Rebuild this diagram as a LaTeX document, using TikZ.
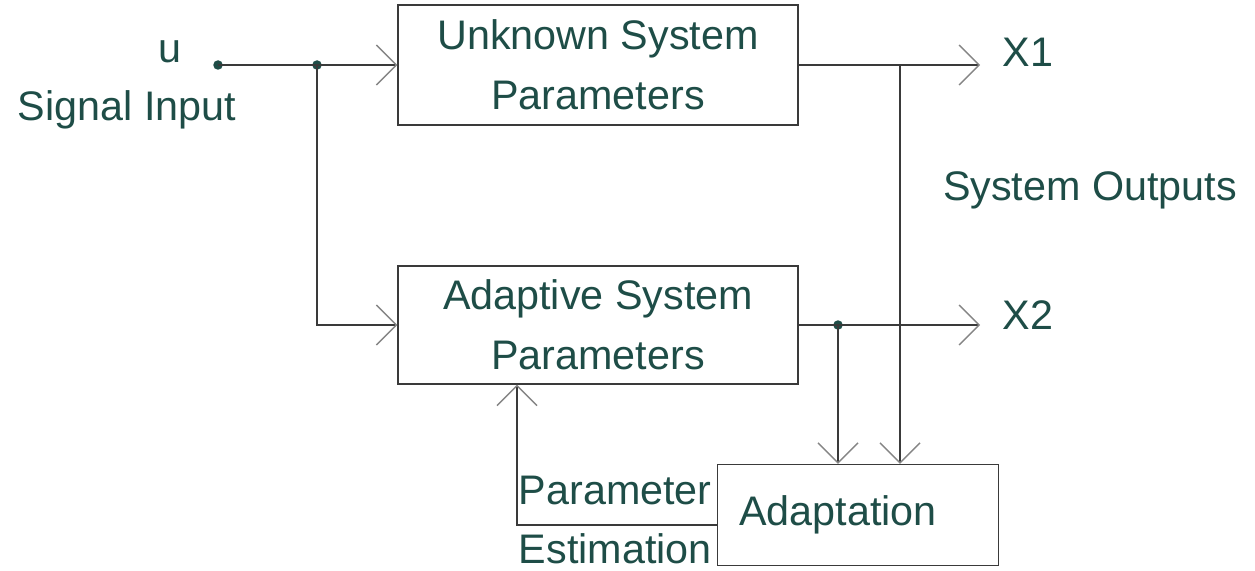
\documentclass[tikz,border=0pt]{standalone}
\usepackage{fontspec}
\setmainfont{Liberation Sans}
\usetikzlibrary{arrows.meta,positioning,calc}
\definecolor{inkteal}{HTML}{1E4D47}
\definecolor{wireline}{HTML}{3A3A3A}
\definecolor{tipgray}{HTML}{858585}
\tikzset{
  blk/.style={draw=wireline,line width=0.8pt,fill=white,inner sep=0pt,align=center,text=inkteal,font=\fontsize{23.5}{34}\selectfont},
  lbl/.style={text=inkteal,font=\fontsize{23.5}{34}\selectfont,inner sep=0pt},
  flow/.style={-{Straight Barb[length=0.4cm,width=0.8cm,color=tipgray]},line width=0.8pt,color=wireline},
  jdot/.style={circle,fill=inkteal,inner sep=0pt,minimum size=0.19cm},
}
\begin{document}
\begin{tikzpicture}[x=0.02cm,y=-0.02cm]
  \useasboundingbox[fill=white] (0,0) rectangle (1255,571);
  % blocks
  \node[blk,minimum width=8cm,minimum height=2.4cm] (unk) at (598,65) {Unknown System\\Parameters};
  \node[blk,minimum width=8cm,minimum height=2.36cm] (adp) at (598,325) {Adaptive System\\Parameters};
  \node[blk,minimum width=5.62cm,minimum height=2.02cm,label={[lbl,xshift=-0.4cm]center:Adaptation}] (ada) at (858,515) {};
  % labels
  \node[lbl] (u) at (170,52) {u};
  \node[lbl] (sig) at (127,110) {Signal Input};
  \node[lbl,anchor=west,inner xsep=0.45cm] (x1) at (980,52) {X1};
  \node[lbl,anchor=west,inner xsep=0.45cm] (x2) at (980,315) {X2};
  \node[lbl] (outs) at (1090,190) {System Outputs};
  \node[lbl,align=right,anchor=east] (est) at (712,520) {Parameter\\Estimation};
  % junctions
  \node[jdot] (in) at (218,65) {};
  \node[jdot] (br1) at (317,65) {};
  \node[jdot] (br3) at (838,325) {};
  \coordinate (br2) at (900,65);
  % connectors
  \draw[flow] (in.center) -- (unk.west);
  \draw[flow] (br1.center) |- (adp.west);
  \draw[flow] (unk.east) -- (x1.west |- unk.east);
  \draw[flow] (adp.east) -- (x2.west |- adp.east);
  \draw[flow] (br2) -- (br2 |- ada.north);
  \draw[flow] (br3.center) -- (br3 |- ada.north);
  \draw[flow] ([yshift=-0.2cm]ada.west) -| ([xshift=-1.62cm]adp.south);
\end{tikzpicture}
\end{document}
